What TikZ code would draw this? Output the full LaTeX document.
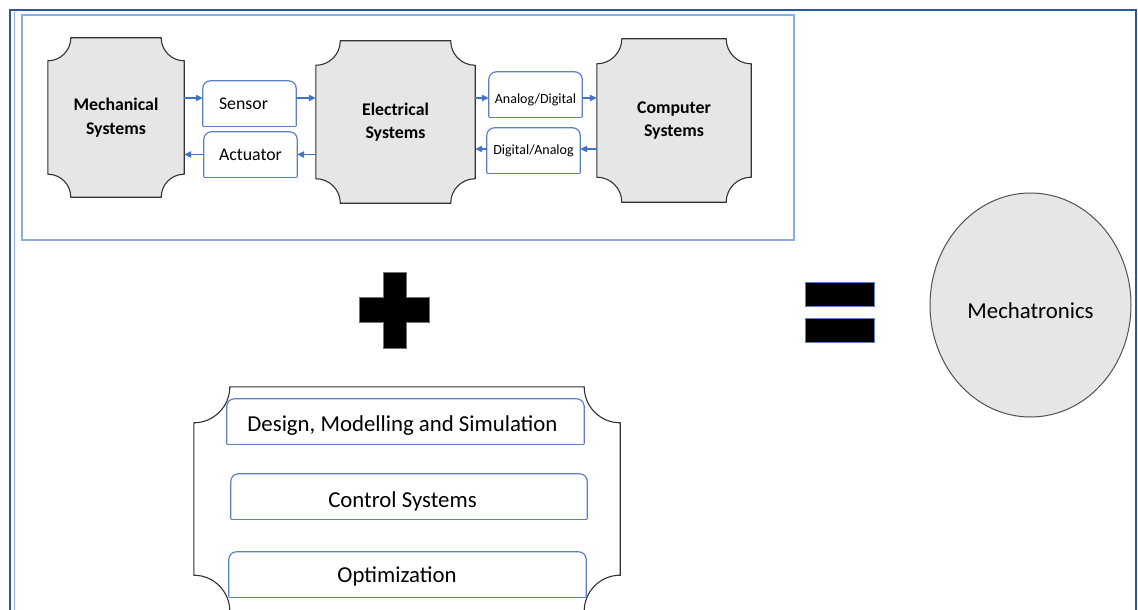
\documentclass[tikz,border=0pt]{standalone}
\usepackage{fontspec}
\setmainfont{Carlito}
\usetikzlibrary{arrows.meta,calc,backgrounds,shapes.geometric}
\definecolor{framedark}{RGB}{47,85,151}
\definecolor{framelight}{RGB}{143,170,220}
\definecolor{boxblue}{RGB}{91,127,197}
\definecolor{arrowblue}{RGB}{68,114,196}
\definecolor{plaquegray}{RGB}{230,230,230}
\definecolor{edgedark}{RGB}{50,50,50}

\tikzset{
 sysnode/.style={rectangle, inner sep=0pt, font=\fontsize{17.8}{23.5}\selectfont\bfseries, align=center},
 smallbox/.style={rectangle, inner sep=0pt, minimum width=93pt, minimum height=45pt, font=\fontsize{17.8}{21}\selectfont},
 convbox/.style={smallbox, font=\fontsize{14}{17}\selectfont},
 toolbox/.style={rectangle, inner sep=0pt, minimum height=45pt, text height=19pt, text depth=0pt, font=\fontsize{22.8}{27}\selectfont},
 plaquefill/.style={fill=plaquegray, draw=edgedark, line width=1.1pt},
 tabline/.style={draw=boxblue, line width=1.2pt},
 arr/.style={draw=arrowblue, line width=1.1pt, -{Triangle[length=7pt,width=6.5pt]}},
}

% concave-corner (plaque) outline around a named node
\newcommand\plaqueshape[3]{%
 \pgfmathsetmacro\pk{0.5523*#2}%
 \path[#3] ($(#1.north west)+(#2,0)$) -- ($(#1.north east)+(-#2,0)$)
   .. controls ($(#1.north east)+(-#2,\pk)$) and ($(#1.north east)+(-\pk,#2)$) .. ($(#1.north east)+(0,#2)$)
   -- ($(#1.south east)+(0,-#2)$)
   .. controls ($(#1.south east)+(-\pk,-#2)$) and ($(#1.south east)+(-#2,-\pk)$) .. ($(#1.south east)+(-#2,0)$)
   -- ($(#1.south west)+(#2,0)$)
   .. controls ($(#1.south west)+(#2,-\pk)$) and ($(#1.south west)+(\pk,-#2)$) .. ($(#1.south west)+(0,-#2)$)
   -- ($(#1.north west)+(0,#2)$)
   .. controls ($(#1.north west)+(\pk,#2)$) and ($(#1.north west)+(#2,\pk)$) .. ($(#1.north west)+(#2,0)$)
   -- cycle;}

% rectangle with rounded top corners around a named node
\newcommand\tabframe[1]{%
 \draw[tabline, rounded corners=7.5pt] (#1.south west) -- (#1.north west) -- (#1.north east) -- (#1.south east);
 \draw[tabline] (#1.south east) -- (#1.south west);}

\begin{document}
\begin{tikzpicture}[x=1pt, y=-1pt]
\useasboundingbox (0,0) rectangle (1138,610);

% system plaques (text nodes)
\node[sysnode, minimum width=136pt, minimum height=159pt] (mech) at (116,117.5) {Mechanical\\Systems};
\node[sysnode, minimum width=159pt, minimum height=162pt] (elec) at (395.5,122) {Electrical\\Systems};
\node[sysnode, minimum width=154pt, minimum height=163pt] (comp) at (674,120.5) {Computer\\Systems};

% interface boxes
\node[smallbox] (sensor) at (249.5,103.5) {Sensor\kern12pt};
\node[smallbox] (act) at (250.5,154.5) {Actuator};
\node[convbox, text height=17pt, text depth=0pt] (ad) at (535.5,94.5) {Analog/Digital};
\node[convbox] (da) at (533.5,150.5) {Digital/Analog};

% bottom tools plaque and its boxes
\node[rectangle, inner sep=0pt, minimum width=426pt, minimum height=224pt] (tools) at (407,499) {};
\node[toolbox, minimum width=357pt] (design) at (405.5,421.5) {Design, Modelling and Simulation\kern6pt};
\node[toolbox, minimum width=356pt, text height=22pt] (control) at (409,496.5) {Control Systems\kern13pt};
\node[toolbox, minimum width=357pt, text height=16pt] (optim) at (407.5,574.5) {Optimization\kern21pt};

% result
\node[ellipse, fill=plaquegray, draw=edgedark!85, line width=1pt, minimum width=201pt, minimum height=224pt, inner sep=0pt, text height=26pt, text depth=0pt, font=\fontsize{22.8}{27}\selectfont] (mtx) at (1030.5,305) {Mechatronics};

% box outlines
\tabframe{sensor}
\tabframe{act}
\tabframe{ad}
\tabframe{da}
\tabframe{design}
\tabframe{control}
\tabframe{optim}

% connectors
\draw[arr] ([yshift=19.5pt]mech.east) -- ([yshift=5.5pt]sensor.west);
\draw[arr] ([yshift=5.5pt]sensor.east) -- ([yshift=24pt]elec.west);
\draw[arr] ([yshift=-32.5pt]elec.west) -- (act.east);
\draw[arr] (act.west) -- ([yshift=-37pt]mech.east);
\draw[arr] ([yshift=24pt]elec.east) -- ([yshift=-3.5pt]ad.west);
\draw[arr] ([yshift=-3.5pt]ad.east) -- ([yshift=22.5pt]comp.west);
\draw[arr] ([yshift=-28.5pt]comp.west) -- ([yshift=1.5pt]da.east);
\draw[arr] ([yshift=1.5pt]da.west) -- ([yshift=-27pt]elec.east);

% plus sign
\filldraw[fill=black, draw=black!55, line width=0.8pt]
  (383,272) -- (406,272) -- (406,297) -- (429,297) -- (429,322) -- (406,322)
  -- (406,348) -- (383,348) -- (383,322) -- (359,322) -- (359,297) -- (383,297) -- cycle;

% equals sign
\filldraw[fill=black, draw=boxblue, line width=0.8pt] (805,282) rectangle (874,306);
\filldraw[fill=black, draw=boxblue, line width=0.8pt] (805,318) rectangle (874,342);

\begin{scope}[on background layer]
 \fill[white] (0,0) rectangle (1138,610);
 \draw[framedark, line width=2pt] (10,616) -- (10,10) -- (1136,10) -- (1136,616);
 \draw[framelight, line width=1pt] (14,616) -- (14,12);
 \draw[framelight, line width=1.2pt] (22,15) rectangle (794,240);
 \plaqueshape{mech}{23}{plaquefill}
 \plaqueshape{elec}{24.5}{plaquefill}
 \plaqueshape{comp}{25}{plaquefill}
 \plaqueshape{tools}{36}{fill=white, draw=edgedark, line width=1.1pt}
\end{scope}
\end{tikzpicture}
\end{document}
